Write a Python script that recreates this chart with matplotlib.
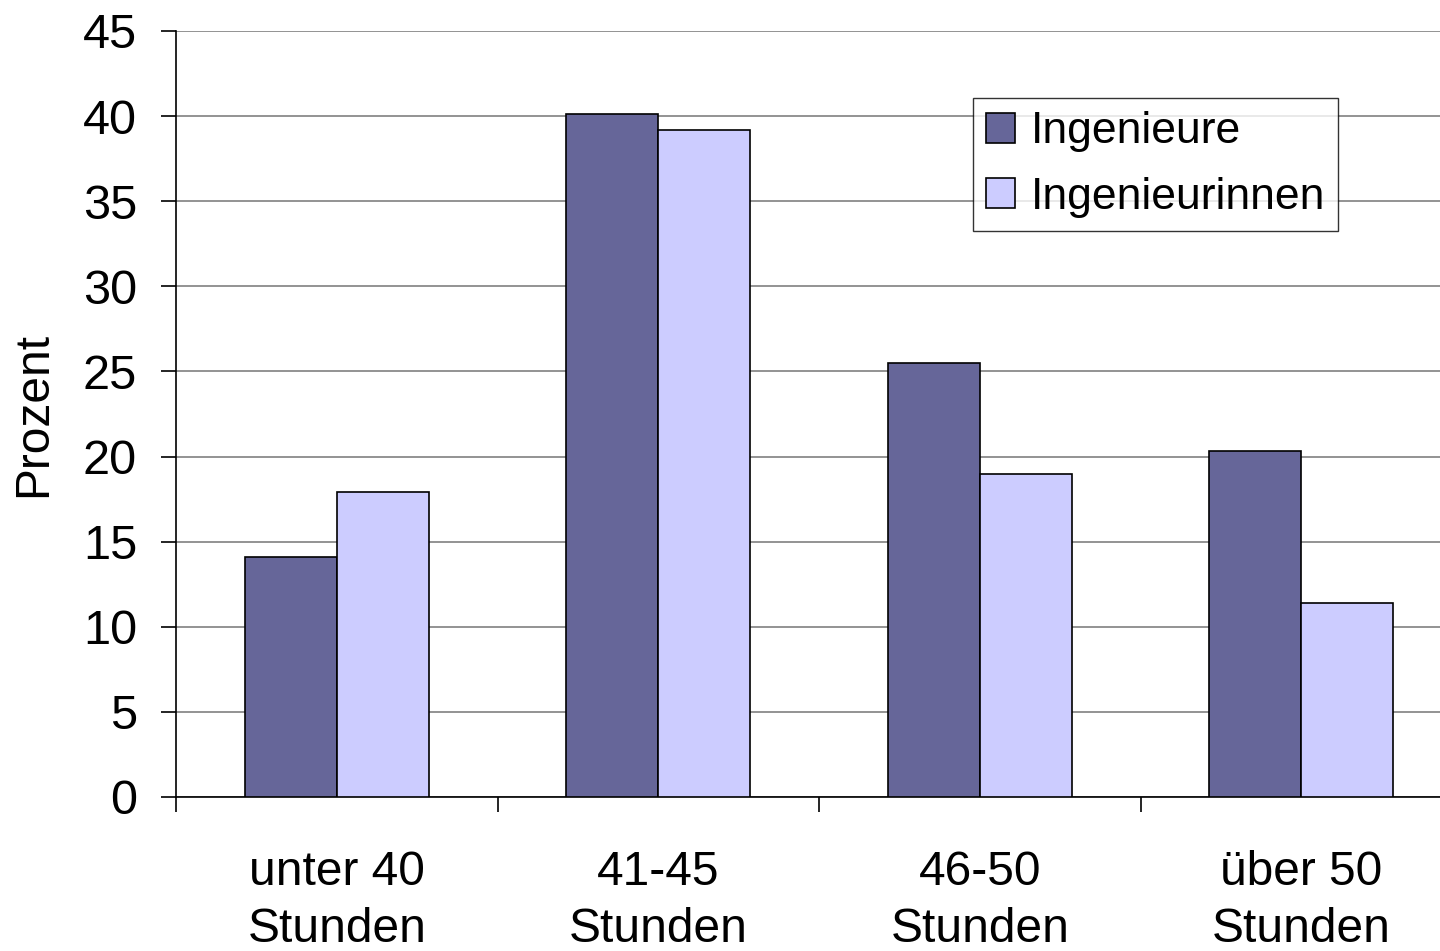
import numpy as np
import matplotlib.pyplot as plt

kategorien = ['unter 40\nStunden', '41-45\nStunden', '46-50\nStunden', 'über 50\nStunden']
ingenieure = [14.1, 40.1, 25.5, 20.3]
ingenieurinnen = [17.9, 39.2, 19.0, 11.4]

plt.rcParams['font.family'] = ['Liberation Sans', 'DejaVu Sans']

fig = plt.figure(figsize=(14.4, 9.51), dpi=100)
# Zeichenfläche reicht rechts leicht über den Rand hinaus
ax = fig.add_axes([176 / 1440, 1 - 797 / 951, 1286 / 1440, 766 / 951])

x = np.arange(len(kategorien))
w = 0.286
ax.bar(x - w / 2, ingenieure, w, color='#666699', edgecolor='black', linewidth=1.2,
       label='Ingenieure', zorder=3)
ax.bar(x + w / 2, ingenieurinnen, w, color='#CCCCFF', edgecolor='black', linewidth=1.2,
       label='Ingenieurinnen', zorder=3)

ax.set_xlim(-0.5, len(kategorien) - 0.5)
ax.set_ylim(0, 45)
ax.set_yticks(range(0, 46, 5))
ax.yaxis.grid(True, color='#808080', linewidth=1.2, zorder=0)

# Striche an den Gruppengrenzen, Beschriftung in der Mitte
ax.set_xticks(np.arange(-0.5, len(kategorien), 1.0))
ax.set_xticklabels([])
ax.set_xticks(x, minor=True)
ax.set_xticklabels(kategorien, minor=True, fontsize=34.5, linespacing=1.35)
ax.tick_params(axis='x', which='major', direction='out', length=11, width=1.2)
ax.tick_params(axis='x', which='minor', length=0, pad=38)
ax.tick_params(axis='y', direction='out', length=11, width=1.2, labelsize=35, pad=17)

for side in ['top', 'right']:
    ax.spines[side].set_visible(False)
for side in ['left', 'bottom']:
    ax.spines[side].set_linewidth(1.2)

ax.set_ylabel('Prozent', fontsize=34.5, labelpad=19)

leg = ax.legend(loc='upper left', bbox_to_anchor=((973 - 176) / 1286, (797 - 98) / 766),
                fontsize=32, frameon=True, fancybox=False, edgecolor='black',
                handlelength=0.65, handleheight=0.65, handletextpad=0.35,
                borderpad=0.3, labelspacing=0.55, borderaxespad=0)
leg.get_frame().set_linewidth(1.0)

fig.savefig('out.png', dpi=100)
